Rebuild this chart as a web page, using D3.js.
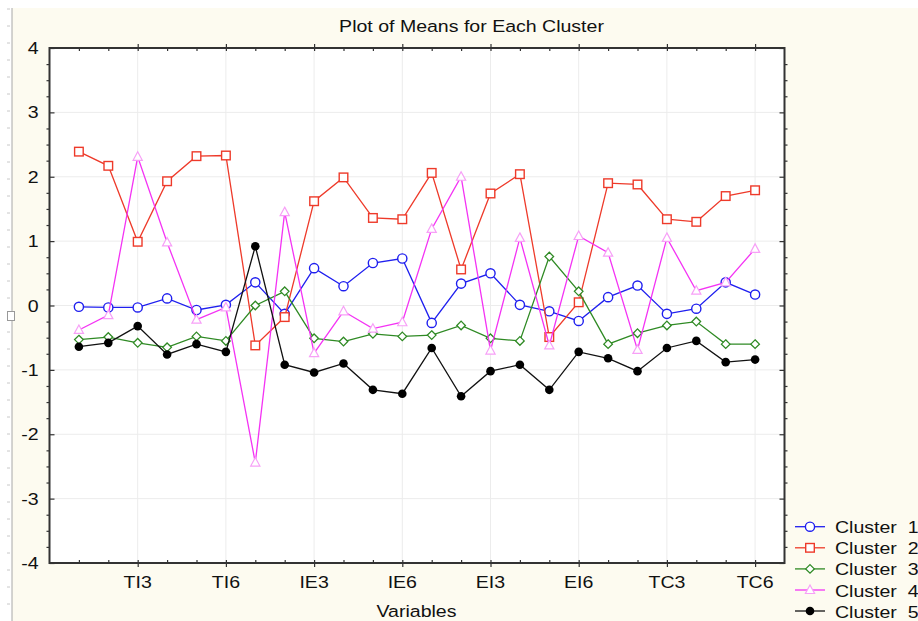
<!DOCTYPE html>
<html>
<head>
<meta charset="utf-8">
<script src="https://cdn.jsdelivr.net/npm/d3@7"></script>
<style>
html,body{margin:0;padding:0;background:#fff;}
svg{display:block;}
text{font-family:"Liberation Sans",Arial,sans-serif;fill:#111;}
</style>
</head>
<body>
<svg id="chart" width="918" height="621"></svg>
<script>
// ---- data ----
const variables = ["TI1","TI2","TI3","TI4","TI5","TI6","IE1","IE2","IE3","IE4","IE5","IE6",
                   "EI1","EI2","EI3","EI4","EI5","EI6","TC1","TC2","TC3","TC4","TC5","TC6"];
const clusterNames = ["Cluster  1","Cluster  2","Cluster  3","Cluster  4","Cluster  5"];
const cluster1 = [-0.02,-0.03,-0.03,0.11,-0.07,0.01,0.36,-0.13,0.58,0.30,0.66,0.73,-0.27,0.34,0.50,0.01,-0.09,-0.24,0.13,0.31,-0.13,-0.05,0.36,0.17];
const cluster2 = [2.39,2.17,0.99,1.93,2.32,2.33,-0.62,-0.18,1.62,1.99,1.36,1.34,2.06,0.56,1.74,2.04,-0.49,0.05,1.90,1.88,1.34,1.30,1.70,1.79];
const cluster3 = [-0.53,-0.49,-0.58,-0.65,-0.48,-0.55,0.00,0.22,-0.51,-0.56,-0.44,-0.48,-0.46,-0.31,-0.51,-0.55,0.76,0.22,-0.60,-0.43,-0.31,-0.25,-0.60,-0.60];
const cluster4 = [-0.38,-0.15,2.31,0.98,-0.22,-0.03,-2.44,1.45,-0.74,-0.09,-0.36,-0.26,1.19,2.00,-0.70,1.05,-0.62,1.08,0.82,-0.69,1.05,0.23,0.36,0.88];
const cluster5 = [-0.64,-0.58,-0.32,-0.76,-0.60,-0.72,0.92,-0.92,-1.04,-0.90,-1.31,-1.37,-0.66,-1.41,-1.02,-0.92,-1.31,-0.72,-0.82,-1.02,-0.66,-0.55,-0.88,-0.84];
const yTicks = [-4,-3,-2,-1,0,1,2,3,4];
const title = "Plot of Means for Each Cluster";
const xTitle = "Variables";

const series = [
  {name: clusterNames[0], values: cluster1, color: "#1f1fef", mstroke: "#1f1fef", marker: "circle"},
  {name: clusterNames[1], values: cluster2, color: "#ee3a2a", mstroke: "#ee3a2a", marker: "square"},
  {name: clusterNames[2], values: cluster3, color: "#2f8a24", mstroke: "#2f8a24", marker: "diamond"},
  {name: clusterNames[3], values: cluster4, color: "#f433f4", mstroke: "#f7a0f7", marker: "triangle"},
  {name: clusterNames[4], values: cluster5, color: "#111111", mstroke: "#000000", marker: "dot"}
];

const W = 918, H = 621;
const L = 49.5, R = 784.5, T = 48, B = 563;
const SX = 1.15; // horizontal stretch of the original text

const svg = d3.select("#chart");

// backgrounds
svg.append("rect").attr("x",0).attr("y",0).attr("width",W).attr("height",H).attr("fill","#ffffff");
svg.append("rect").attr("x",12).attr("y",8).attr("width",W-12).attr("height",H-8).attr("fill","#fdfbf0");
svg.append("line").attr("x1",12).attr("x2",12).attr("y1",8).attr("y2",H).attr("stroke","#a8a8a8").attr("stroke-width",1);
// ruler marks on left strip
svg.append("g").selectAll("line").data(d3.range(9, H, 17)).join("line")
  .attr("x1",7).attr("x2",10).attr("y1",d=>d).attr("y2",d=>d)
  .attr("stroke","#c8c8c8").attr("stroke-width",1);
svg.append("rect").attr("x",7.5).attr("y",311.5).attr("width",7).attr("height",9)
  .attr("fill","#fff").attr("stroke","#999");

svg.append("rect").attr("x",L).attr("y",T).attr("width",R-L).attr("height",B-T).attr("fill","#ffffff");

const x = d3.scaleLinear().domain([0, variables.length + 1]).range([L, R]);
const y = d3.scaleLinear().domain([-4, 4]).range([B, T]);

// grid
const grid = svg.append("g");
grid.selectAll("line.h").data(yTicks.slice(1,-1)).join("line")
  .attr("x1",L).attr("x2",R).attr("y1",d=>y(d)).attr("y2",d=>y(d))
  .attr("stroke","#ececec").attr("stroke-width",1);
const labeledIdx = variables.map((v,i)=>i).filter(i => (i+1)%3===0);
grid.selectAll("line.v").data(labeledIdx).join("line")
  .attr("x1",i=>x(i+1)).attr("x2",i=>x(i+1)).attr("y1",T).attr("y2",B)
  .attr("stroke","#ececec").attr("stroke-width",1);

// axes using d3 axes
const axisColor = "#333";
function styleAxis(g){
  g.select(".domain").remove();
  g.selectAll(".tick line").attr("stroke",axisColor).attr("stroke-width",1.2);
}
const minorY = d3.range(-4, 4.001, 0.25).filter(v => Math.abs(v - Math.round(v)) > 1e-6);
// left major ticks (inward)
svg.append("g").attr("transform",`translate(${L},0)`)
  .call(d3.axisRight(y).tickValues(yTicks).tickSize(5).tickFormat(""))
  .call(styleAxis);
svg.append("g").attr("transform",`translate(${L},0)`)
  .call(d3.axisLeft(y).tickValues(minorY).tickSize(3).tickFormat(""))
  .call(styleAxis);
svg.append("g").attr("transform",`translate(${R},0)`)
  .call(d3.axisLeft(y).tickValues(yTicks).tickSize(5).tickFormat(""))
  .call(styleAxis);
svg.append("g").attr("transform",`translate(${R},0)`)
  .call(d3.axisRight(y).tickValues(minorY).tickSize(3).tickFormat(""))
  .call(styleAxis);
// x ticks
const allX = variables.map((v,i)=>i+1);
svg.append("g").attr("transform",`translate(0,${B})`)
  .call(d3.axisTop(x).tickValues(allX).tickSize(3).tickFormat(""))
  .call(styleAxis);
svg.append("g").attr("transform",`translate(0,${B})`)
  .call(d3.axisBottom(x).tickValues(labeledIdx.map(i=>i+1)).tickSize(4).tickFormat(""))
  .call(styleAxis);
svg.append("g").attr("transform",`translate(0,${T})`)
  .call(d3.axisBottom(x).tickValues(allX).tickSize(3).tickFormat(""))
  .call(styleAxis);
svg.append("g").attr("transform",`translate(0,${T})`)
  .call(d3.axisTop(x).tickValues(labeledIdx.map(i=>i+1)).tickSize(4).tickFormat(""))
  .call(styleAxis);

// frame
svg.append("rect").attr("x",L).attr("y",T).attr("width",R-L).attr("height",B-T)
  .attr("fill","none").attr("stroke",axisColor).attr("stroke-width",2);

// text helper with horizontal stretch
function stext(tx, ty, str, anchor, size){
  return svg.append("text")
    .attr("transform",`translate(${tx},${ty}) scale(${SX},1)`)
    .attr("text-anchor",anchor)
    .style("font-size",size+"px")
    .style("white-space","pre")
    .text(str);
}

// y tick labels
yTicks.forEach(v => stext(38.5, y(v)+6, String(v), "end", 17));
// x tick labels
labeledIdx.forEach(i => stext(x(i+1), 588, variables[i], "middle", 17));
// titles
stext(471.5, 32, title, "middle", 17);
stext(416.5, 617, xTitle, "middle", 17);

// markers
function drawMarker(g, type, cx, cy, s){
  if(type==="circle"){
    g.append("circle").attr("cx",cx).attr("cy",cy).attr("r",4.6)
      .attr("fill","#fff").attr("stroke",s.mstroke).attr("stroke-width",1.4);
  } else if(type==="square"){
    g.append("rect").attr("x",cx-4.3).attr("y",cy-4.3).attr("width",8.6).attr("height",8.6)
      .attr("fill","#fff").attr("stroke",s.mstroke).attr("stroke-width",1.4);
  } else if(type==="diamond"){
    g.append("path").attr("d",`M${cx},${cy-4.3}L${cx+4.3},${cy}L${cx},${cy+4.3}L${cx-4.3},${cy}Z`)
      .attr("fill","#fff").attr("stroke",s.mstroke).attr("stroke-width",1.3);
  } else if(type==="triangle"){
    g.append("path").attr("d",`M${cx},${cy-5}L${cx+4.6},${cy+3.5}L${cx-4.6},${cy+3.5}Z`)
      .attr("fill","#fff").attr("stroke",s.mstroke).attr("stroke-width",1.2);
  } else {
    g.append("circle").attr("cx",cx).attr("cy",cy).attr("r",4.3).attr("fill",s.mstroke);
  }
}

const line = d3.line().x((d,i)=>x(i+1)).y(d=>y(d));
series.forEach(s => {
  const g = svg.append("g");
  g.append("path").attr("d", line(s.values)).attr("fill","none")
    .attr("stroke", s.color).attr("stroke-width",1.3);
  s.values.forEach((v,i) => drawMarker(g, s.marker, x(i+1), y(v), s));
});

// legend
const legY = [526.7, 547.8, 568.9, 590, 611];
series.forEach((s,k) => {
  const g = svg.append("g");
  g.append("line").attr("x1",795).attr("x2",825).attr("y1",legY[k]).attr("y2",legY[k])
    .attr("stroke",s.color).attr("stroke-width",1.3);
  drawMarker(g, s.marker, 810, legY[k], s);
  stext(835, legY[k]+6.5, s.name, "start", 17);
});
</script>
</body>
</html>
